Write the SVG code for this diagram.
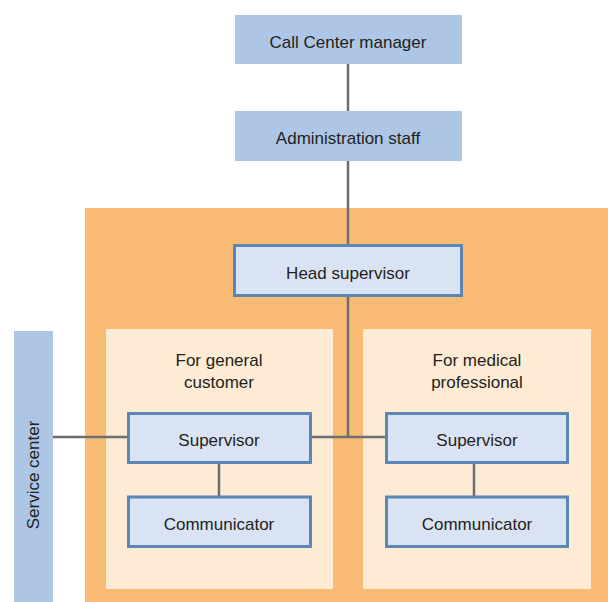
<svg xmlns="http://www.w3.org/2000/svg" width="608" height="602" viewBox="0 0 608 602">
<style>
.top{fill:#adc6e6}
.node{fill:#dae3f3;stroke:#5b86b5;stroke-width:3}
.t{font-family:"Liberation Sans",Arial,sans-serif;font-size:17px;fill:#231f20;text-anchor:middle}
.c{stroke:#6d6e70;stroke-width:2.5;fill:none}
</style>
<rect x="85" y="208" width="523" height="394" fill="#f9bb74"/>
<rect x="106" y="329" width="227" height="260" fill="#feebd4"/>
<rect x="363" y="329" width="228" height="260" fill="#feebd4"/>
<text class="t" x="219" y="366">For general</text>
<text class="t" x="219" y="388">customer</text>
<text class="t" x="477" y="366">For medical</text>
<text class="t" x="477" y="388">professional</text>
<g id="connectors">
<line class="c" x1="348" y1="64" x2="348" y2="111"/>
<line class="c" x1="348" y1="160" x2="348" y2="437"/>
<line class="c" x1="53" y1="437" x2="128" y2="437"/>
<line class="c" x1="311" y1="437" x2="386" y2="437"/>
<line class="c" x1="219" y1="463" x2="219" y2="496"/>
<line class="c" x1="474" y1="463" x2="474" y2="496"/>
</g>
<g id="manager"><rect class="top" x="235" y="15" width="227" height="49"/><text class="t" x="348" y="48">Call Center manager</text></g>
<g id="admin"><rect class="top" x="235" y="111" width="227" height="50"/><text class="t" x="348" y="144">Administration staff</text></g>
<g id="head"><rect class="node" x="234.5" y="245.5" width="227" height="50"/><text class="t" x="348" y="279">Head supervisor</text></g>
<g id="service"><rect class="top" x="14" y="331" width="39" height="271"/><text class="t" transform="translate(39,475) rotate(-90)" x="0" y="0">Service center</text></g>
<g id="sup1"><rect class="node" x="128.5" y="413.5" width="182" height="49"/><text class="t" x="219" y="446">Supervisor</text></g>
<g id="com1"><rect class="node" x="128.5" y="497" width="182" height="49.5"/><text class="t" x="219" y="530">Communicator</text></g>
<g id="sup2"><rect class="node" x="386.5" y="413.5" width="181" height="49"/><text class="t" x="477" y="446">Supervisor</text></g>
<g id="com2"><rect class="node" x="386.5" y="497" width="181" height="49.5"/><text class="t" x="477" y="530">Communicator</text></g>
</svg>
